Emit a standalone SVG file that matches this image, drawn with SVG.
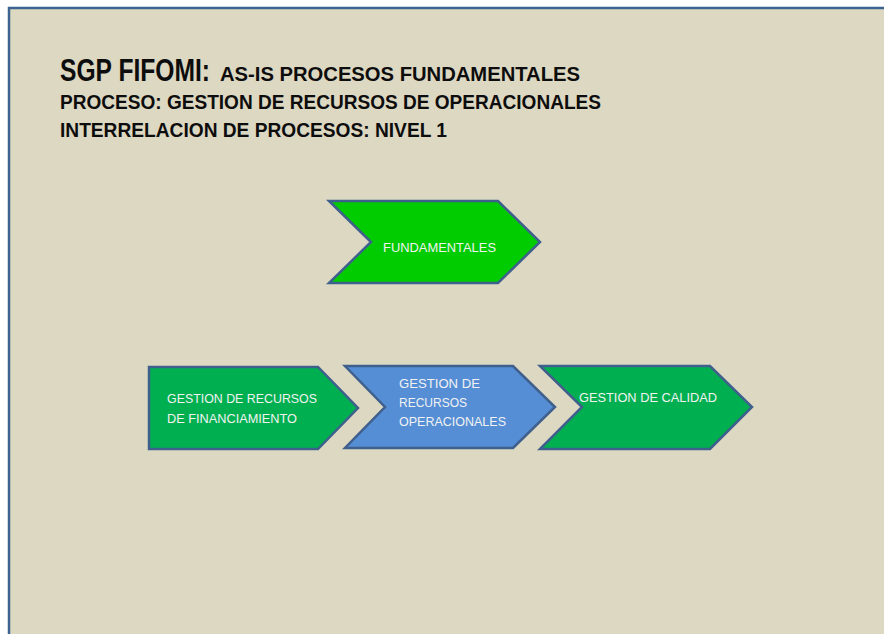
<svg xmlns="http://www.w3.org/2000/svg" width="884" height="634" viewBox="0 0 884 634">
<style>
.t{font-family:"Liberation Sans",Arial,sans-serif;font-weight:bold;fill:#0d0d0d}
.n{font-family:"Liberation Sans",Arial,sans-serif;font-size:13.5px;fill:#f2f2f2}
.s{stroke:#3f5f8c;stroke-width:2.5;stroke-linejoin:miter}
</style>
<rect x="0" y="0" width="884" height="634" fill="#ffffff"/>
<rect x="9" y="8" width="880" height="640" fill="#ddd8c2" stroke="#3d6491" stroke-width="2.5"/>
<g id="title">
<text class="t" x="60" y="81" font-size="31" textLength="150" lengthAdjust="spacingAndGlyphs">SGP FIFOMI:</text>
<text class="t" x="220" y="81" font-size="20" textLength="360" lengthAdjust="spacingAndGlyphs">AS-IS  PROCESOS FUNDAMENTALES</text>
<text class="t" x="60" y="109" font-size="21" textLength="541" lengthAdjust="spacingAndGlyphs">PROCESO: GESTION DE RECURSOS DE OPERACIONALES</text>
<text class="t" x="60" y="137" font-size="21" textLength="387" lengthAdjust="spacingAndGlyphs">INTERRELACION DE PROCESOS: NIVEL 1</text>
</g>
<g id="connectors"></g>
<g id="fundamentales">
<polygon class="s" points="329,201 498,201 540,242 498,283 329,283 371,242" fill="#00cc00"/>
<text class="n" x="383" y="252" textLength="113" lengthAdjust="spacingAndGlyphs">FUNDAMENTALES</text>
</g>
<g id="financiamiento">
<polygon class="s" points="149,367 318,367 358,408 318,449 149,449" fill="#00b050"/>
<text class="n" x="167" y="403" textLength="150" lengthAdjust="spacingAndGlyphs">GESTION DE RECURSOS</text>
<text class="n" x="167" y="423" textLength="130" lengthAdjust="spacingAndGlyphs">DE FINANCIAMIENTO</text>
</g>
<g id="operacionales">
<polygon class="s" points="345,366 513,366 555,407 513,448 345,448 385,407" fill="#558ed5"/>
<text class="n" x="399" y="388" textLength="81" lengthAdjust="spacingAndGlyphs">GESTION  DE</text>
<text class="n" x="399" y="407" textLength="68" lengthAdjust="spacingAndGlyphs">RECURSOS</text>
<text class="n" x="399" y="426" textLength="107" lengthAdjust="spacingAndGlyphs">OPERACIONALES</text>
</g>
<g id="calidad">
<polygon class="s" points="540,366 710,366 752,407 710,449 540,449 582,407" fill="#00b050"/>
<text class="n" x="579" y="402" textLength="138" lengthAdjust="spacingAndGlyphs">GESTION DE CALIDAD</text>
</g>
</svg>
